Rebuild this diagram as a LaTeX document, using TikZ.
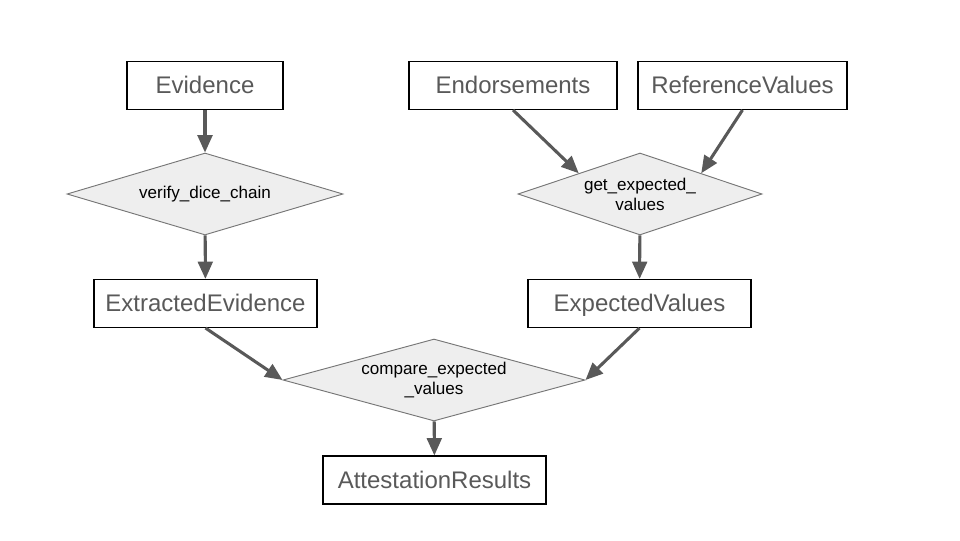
\documentclass[tikz,border=0pt]{standalone}
\usepackage{fontspec}
\setmainfont{Liberation Sans}
\usepackage{xcolor}
\usepackage{tikz}
\usetikzlibrary{shapes.geometric,arrows.meta}
\definecolor{boxtext}{RGB}{89,89,89}
\definecolor{arrowgray}{RGB}{89,89,89}
\definecolor{diafill}{RGB}{238,238,238}
\definecolor{diadraw}{RGB}{118,118,118}

\begin{document}
\begin{tikzpicture}[x=0.75pt, y=-0.75pt,
  databox/.style={draw=black, line width=0.8pt, minimum height=36pt, inner sep=0pt,
    text height=14.5pt, text depth=2.5pt, text=boxtext, font=\fontsize{18}{21}\selectfont},
  check/.style={diamond, draw=diadraw, line width=0.7pt, fill=diafill, inner sep=0pt,
    minimum height=61.5pt, align=center, font=\fontsize{12.8}{15}\selectfont},
  flow/.style={-{Triangle[length=13pt, width=11pt]}, draw=arrowgray, line width=2.3pt}]
\useasboundingbox (0,0) rectangle (960,540);

% inputs
\node[databox, minimum width=117pt] (evidence) at (205,85.5) {Evidence};
\node[databox, minimum width=156pt] (endorse) at (513,85.5) {Endorsements};
\node[databox, minimum width=156.75pt] (refvals) at (742.5,85.5) {ReferenceValues};

% appraisal steps
\node[check, aspect=3.37, minimum width=207pt] (verify) at (205,194) {verify\_dice\_chain};
\node[check, aspect=2.98, minimum width=183pt] (getexp) at (640,194) {get\_expected\_\\values};

\node[databox, minimum width=167.25pt] (extracted) at (205.5,303.5) {ExtractedEvidence};
\node[databox, minimum width=167.25pt] (expected) at (639.5,303.5) {ExpectedValues};

\node[check, aspect=3.68, minimum width=226.5pt] (compare) at (434,380) {compare\_expected\\\_values};
\node[databox, minimum width=167.25pt] (results) at (434.5,480) {AttestationResults};

\draw[flow] (evidence) -- (verify);
\draw[flow] (verify) -- (extracted);
\draw[flow] (endorse.south) -- (getexp.north west);
\draw[flow] (refvals.south) -- (getexp.north east);
\draw[flow] (getexp) -- (expected);
\draw[flow] (extracted.south) -- (compare.west);
\draw[flow] (expected.south) -- (compare.east);
\draw[flow] (compare) -- (results);
\end{tikzpicture}
\end{document}
